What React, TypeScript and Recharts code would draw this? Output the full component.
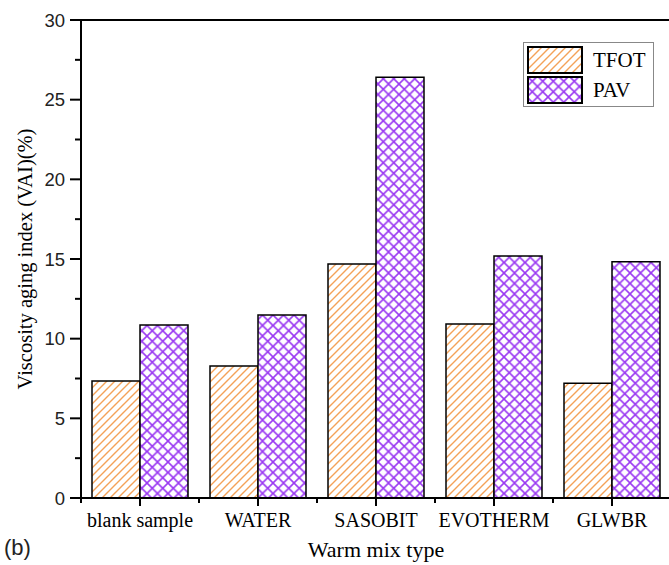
import React from 'react';
import {
  BarChart, Bar, XAxis, YAxis, ReferenceLine, Legend
} from 'recharts';

const categories = ['blank sample', 'WATER', 'SASOBIT', 'EVOTHERM', 'GLWBR'];
const tfotValues = [7.35, 8.29, 14.69, 10.92, 7.2];
const pavValues = [10.86, 11.49, 26.4, 15.19, 14.83];
const yTicks = [0, 2.5, 5, 7.5, 10, 12.5, 15, 17.5, 20, 22.5, 25, 27.5, 30];

const data = categories.map((name, i) => ({
  name,
  TFOT: tfotValues[i],
  PAV: pavValues[i],
}));

const SERIF = '"Liberation Serif", "Times New Roman", serif';
const SANS = '"Liberation Sans", Arial, sans-serif';
const ORANGE = '#f4a258';
const PURPLE = '#9a38f2';

const Patterns = ({ prefix }: { prefix: string }) => (
  <defs>
    <pattern id={`${prefix}-hatch`} patternUnits="userSpaceOnUse" width={8} height={8}>
      <rect width={8} height={8} fill="#fff" />
      <path d="M-2,2 L2,-2 M0,8 L8,0 M6,10 L10,6" stroke={ORANGE} strokeWidth={1.4} />
    </pattern>
    <pattern id={`${prefix}-cross`} patternUnits="userSpaceOnUse" width={10.5} height={10.5}>
      <rect width={10.5} height={10.5} fill="#fff" />
      <path d="M0,0 L10.5,10.5 M10.5,0 L0,10.5" stroke={PURPLE} strokeWidth={1.6} />
    </pattern>
  </defs>
);

const XTick = (props: any) => {
  const { x, y, payload, index } = props;
  const off = payload.offset || 0;
  return (
    <g>
      <line x1={x} x2={x} y1={y} y2={y + 8} stroke="#000" strokeWidth={2} />
      <line x1={x - off} x2={x - off} y1={y} y2={y + 5} stroke="#000" strokeWidth={2} />
      {index === categories.length - 1 && (
        <line x1={x + off} x2={x + off} y1={y} y2={y + 5} stroke="#000" strokeWidth={2} />
      )}
      <text x={x} y={y + 29} textAnchor="middle" fontFamily={SERIF} fontSize={20} fill="#000">
        {payload.value}
      </text>
    </g>
  );
};

const YTick = (props: any) => {
  const { x, y, payload } = props;
  const major = payload.value % 5 === 0;
  return (
    <g>
      <line x1={x - (major ? 11 : 6)} x2={x} y1={y} y2={y} stroke="#000" strokeWidth={2} />
      {major && (
        <text x={x - 16} y={y} textAnchor="end" dominantBaseline="central" fontFamily={SANS} fontSize={18.5} fill="#222">
          {payload.value}
        </text>
      )}
    </g>
  );
};

const YLabel = (props: any) => {
  const vb = props.viewBox || { y: 20, height: 478 };
  const cx = 32;
  const cy = vb.y + vb.height / 2;
  return (
    <text x={cx} y={cy} transform={`rotate(-90 ${cx} ${cy})`} textAnchor="middle" fontFamily={SERIF} fontSize={20.5} fill="#000">
      Viscosity aging index (VAI)(%)
    </text>
  );
};

const renderLegend = () => (
  <div style={{ width: 131, height: 65, border: '1px solid #888', background: '#fff', boxSizing: 'border-box', padding: '2px 3px' }}>
    {[{ name: 'TFOT', fill: 'url(#lg-hatch)' }, { name: 'PAV', fill: 'url(#lg-cross)' }].map((item) => (
      <div key={item.name} style={{ display: 'flex', alignItems: 'center', height: 30 }}>
        <svg width={56} height={28} style={{ display: 'block' }}>
          <Patterns prefix="lg" />
          <rect x={1} y={1} width={54} height={26} fill={item.fill} stroke="#000" strokeWidth={2} />
        </svg>
        <span style={{ marginLeft: 10, fontFamily: SERIF, fontSize: 21, color: '#000' }}>{item.name}</span>
      </div>
    ))}
  </div>
);

export default function App() {
  return (
    <div style={{ position: 'absolute', left: 0, top: 0, width: 669, height: 565, overflow: 'hidden', background: '#fff' }}>
      <BarChart
        width={680}
        height={565}
        data={data}
        margin={{ top: 20, right: 9, left: 0, bottom: 0 }}
        barCategoryGap={11}
        barGap={0}
      >
        <Patterns prefix="ch" />
        <XAxis
          dataKey="name"
          interval={0}
          height={67}
          tickSize={0}
          tickMargin={0}
          tickLine={false}
          axisLine={{ stroke: '#000', strokeWidth: 2 }}
          tick={<XTick />}
          label={{ value: 'Warm mix type', position: 'insideBottom', offset: 8, fontFamily: SERIF, fontSize: 22, fill: '#000' }}
        />
        <YAxis
          width={81}
          domain={[0, 30]}
          ticks={yTicks}
          interval={0}
          tickSize={0}
          tickMargin={0}
          tickLine={false}
          axisLine={{ stroke: '#000', strokeWidth: 2 }}
          tick={<YTick />}
          label={<YLabel />}
        />
        <ReferenceLine y={30} stroke="#000" strokeWidth={2} />
        <Bar dataKey="TFOT" fill="url(#ch-hatch)" stroke="#000" strokeWidth={1.5} isAnimationActive={false} />
        <Bar dataKey="PAV" fill="url(#ch-cross)" stroke="#000" strokeWidth={1.5} isAnimationActive={false} />
        <Legend
          layout="vertical"
          align="center"
          verticalAlign="middle"
          content={renderLegend}
          wrapperStyle={{ left: 523, top: 42, width: 131, height: 65 }}
        />
      </BarChart>
      <div style={{ position: 'absolute', left: 4, top: 535, fontFamily: SANS, fontSize: 22, color: '#222' }}>(b)</div>
    </div>
  );
}
